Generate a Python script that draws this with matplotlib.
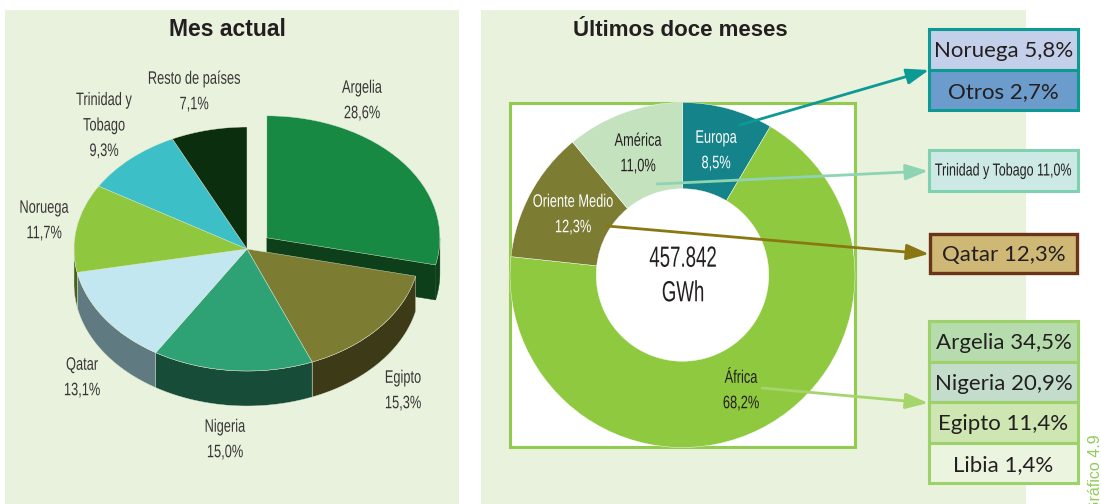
import numpy as np
import matplotlib
matplotlib.use("Agg")
import matplotlib.pyplot as plt
import matplotlib.patheffects as pe
from matplotlib.patches import Rectangle, Polygon
from matplotlib.transforms import Affine2D

W, H = 1101, 504

# ---- data ----
left_title = "Mes actual"
right_title = "Últimos doce meses"
left_labels = ["Argelia", "Egipto", "Nigeria", "Qatar", "Noruega", "Trinidad y\nTobago", "Resto de países"]
left_values = [28.6, 15.3, 15.0, 13.1, 11.7, 9.3, 7.1]
left_text = ["28,6%", "15,3%", "15,0%", "13,1%", "11,7%", "9,3%", "7,1%"]
right_labels = ["Europa", "África", "Oriente Medio", "América"]
right_values = [8.5, 68.2, 12.3, 11.0]
right_text = ["8,5%", "68,2%", "12,3%", "11,0%"]
centre_text = "457.842\nGWh"
box_europa = ["Noruega 5,8%", "Otros 2,7%"]
box_america = ["Trinidad y Tobago 11,0%"]
box_medio = ["Qatar 12,3%"]
box_africa = ["Argelia 34,5%", "Nigeria 20,9%", "Egipto 11,4%", "Libia 1,4%"]
side_note = "Gráfico 4.9"

# ---- styles ----
PANEL = "#e9f2dd"
left_top = ["#178942", "#7c7d33", "#2fa275", "#c3e7f0", "#8fc73f", "#3cbfc6", "#0b2e0f"]
left_side = ["#0c3f1a", "#3c3a17", "#174d38", "#5f7a80", "#46601c", "#1d5c60", "#06170a"]
right_col = ["#14848a", "#8fc93f", "#7c7c33", "#c5e2bf"]
SANS = ["Liberation Sans", "DejaVu Sans"]
BOX = ["Lato", "DejaVu Sans"]
TXT = "#231f20"


class Condense(pe.AbstractPathEffect):
    """Squeeze a text's glyphs horizontally about its centre."""
    def __init__(self, x_display, sx):
        super().__init__()
        self.x, self.sx = x_display, sx

    def draw_path(self, renderer, gc, tpath, affine, rgbFace=None):
        a = affine + Affine2D().translate(-self.x, 0).scale(self.sx, 1).translate(self.x, 0)
        renderer.draw_path(gc, tpath, a, rgbFace)


fig = plt.figure(figsize=(W / 100, H / 100), dpi=100, facecolor="white")
bg = fig.add_axes([0, 0, 1, 1], zorder=0)
bg.set_xlim(0, W); bg.set_ylim(H, 0); bg.axis("off")
top = fig.add_axes([0, 0, 1, 1], zorder=5)
top.set_xlim(0, W); top.set_ylim(H, 0); top.axis("off"); top.patch.set_alpha(0)


def narrow(x, y, s, fs, sx, color, ls=1.65):
    t = top.text(x, y, s, ha="center", va="center", fontsize=fs, family=SANS, color=color, linespacing=ls)
    t.set_path_effects([Condense(top.transData.transform((x, y))[0], sx)])
    return t


bg.add_patch(Rectangle((5, 10), 454, 494, fc=PANEL, ec="none"))
bg.add_patch(Rectangle((481, 10), 545, 494, fc=PANEL, ec="none"))
top.text(227.5, 36, left_title, ha="center", va="baseline", fontsize=16.5, fontweight="bold",
         family=SANS, color=TXT)
top.text(680, 36, right_title, ha="center", va="baseline", fontsize=16, fontweight="bold",
         family=SANS, color=TXT)


# ---- 3D style pie ----
cx, cy, rx, ry, depth = 247, 249, 173, 122, 35


def pie_axes(x0, y0, w, h, z):
    return fig.add_axes([x0 / W, 1 - (y0 + h) / H, w / W, h / H], zorder=z)


PAD = 1.3
pax = pie_axes(cx - rx * PAD, cy - ry * PAD, 2 * rx * PAD, 2 * ry * PAD, 2)
EXP = 0.147
explode = [EXP] + [0] * (len(left_values) - 1)
wedges, _ = pax.pie(left_values, colors=left_top, startangle=90, counterclock=False, explode=explode,
                    radius=1, wedgeprops=dict(linewidth=0.3, edgecolor="#dfe8cf", zorder=5))
pax.set_aspect("auto")
pax.set_xlim(-PAD, PAD); pax.set_ylim(-PAD, PAD)
pax.patch.set_alpha(0)
dz = depth / ry
total = sum(left_values)
edges = 90 - 360 * np.cumsum([0] + left_values) / total
for i, (v, col) in enumerate(zip(left_values, left_side)):
    a0, a1 = edges[i], edges[i + 1]
    mid = np.radians((a0 + a1) / 2)
    ox, oy = (explode[i] * np.cos(mid), explode[i] * np.sin(mid))
    lo, hi = max(a1, -180), min(a0, 0)
    order = 1 if i else 0.5
    if lo < hi:
        t = np.radians(np.linspace(lo, hi, 60))
        xs, ys = ox + np.cos(t), oy + np.sin(t)
        pts = np.r_[np.c_[xs, ys], np.c_[xs[::-1], ys[::-1] - dz]]
        pax.add_patch(Polygon(pts, fc=col, ec="#dfe8cf" if i else col, lw=0.3, zorder=order))
    if i == 0:
        t = np.radians(a1)
        ex, ey = ox + np.cos(t), oy + np.sin(t)
        pax.add_patch(Polygon([(ox, oy), (ex, ey), (ex, ey - dz), (ox, oy - dz)], fc=col, ec=col,
                              lw=0.3, zorder=0.6))
wedges[0].set_zorder(0.8)

left_pos = [(362, 101), (403, 391), (225, 440), (82, 378), (44, 221), (104, 126), (194, 92)]
for lab, val, (x, y) in zip(left_labels, left_text, left_pos):
    narrow(x, y, f"{lab}\n{val}", 13, 0.71, "#363636")

# ---- doughnut ----
dcx, dcy, dr = 682.5, 275, 172.5
bg.add_patch(Rectangle((510, 103), 345, 344, fc="white", ec="#93cb52", lw=2.2, zorder=1))
dax = pie_axes(dcx - dr, dcy - dr, 2 * dr, 2 * dr, 2)
dax.pie(right_values, colors=right_col, startangle=90, counterclock=False, radius=1,
        wedgeprops=dict(width=0.50, linewidth=0.3, edgecolor="white"))
dax.set_aspect("auto"); dax.set_xlim(-1, 1); dax.set_ylim(-1, 1); dax.patch.set_alpha(0)

right_pos = [(716, 151), (741, 391), (573, 215), (638, 154)]
right_cols = ["white", TXT, "white", TXT]
for lab, val, (x, y), c in zip(right_labels, right_text, right_pos, right_cols):
    narrow(x, y, f"{lab}\n{val}", 13, 0.71, c)
narrow(683, 276, centre_text, 21, 0.64, TXT, ls=1.3)


# ---- breakdown boxes ----
def stack(y0, h, texts, fills, edge, lw, x0=929, w=149, fs=16):
    for i, (t, f) in enumerate(zip(texts, fills)):
        top.add_patch(Rectangle((x0, y0 + i * h), w, h, fc=f, ec=edge, lw=lw))
        top.text(x0 + w / 2, y0 + (i + 0.55) * h, t, ha="center", va="center", fontsize=fs,
                 family=BOX, color=TXT)


stack(29, 40.5, box_europa, ["#c4d0e9", "#6c9ccb"], "#0d9a94", 2.2)
for f, t, e in zip(["#cde9e6"], box_america, ["#7fd1b0"]):
    top.add_patch(Rectangle((929, 150), 149, 41, fc=f, ec=e, lw=2.2))
    narrow(1003.5, 171, t, 12.5, 0.72, TXT)
stack(234, 39, box_medio, ["#cfb875"], "#6b3318", 2.4, x0=930, w=147)
stack(321, 40.5, box_africa, ["#b6dcae", "#c3dccb", "#cde6b2", "#ebf4df"], "#9dd169", 2.2)


def arrow(start, end, col, lw=2):
    top.annotate("", xy=end, xytext=start, annotation_clip=False,
                 arrowprops=dict(arrowstyle="-|>,head_length=0.85,head_width=0.3", color=col, lw=lw,
                                 shrinkA=0, shrinkB=0, mutation_scale=16))


arrow((740, 125), (929, 70), "#0d9a94")
arrow((657, 184), (928, 171), "#8ed4b4")
arrow((607, 226), (929, 254), "#8a7712")
arrow((762, 388), (928, 403), "#a5d56b")

top.text(1095, 513, side_note, rotation=90, ha="center", va="bottom", fontsize=11.5,
         family=SANS, color="#93cc5a", clip_on=False)

fig.savefig("out.png", dpi=100, facecolor="white")
